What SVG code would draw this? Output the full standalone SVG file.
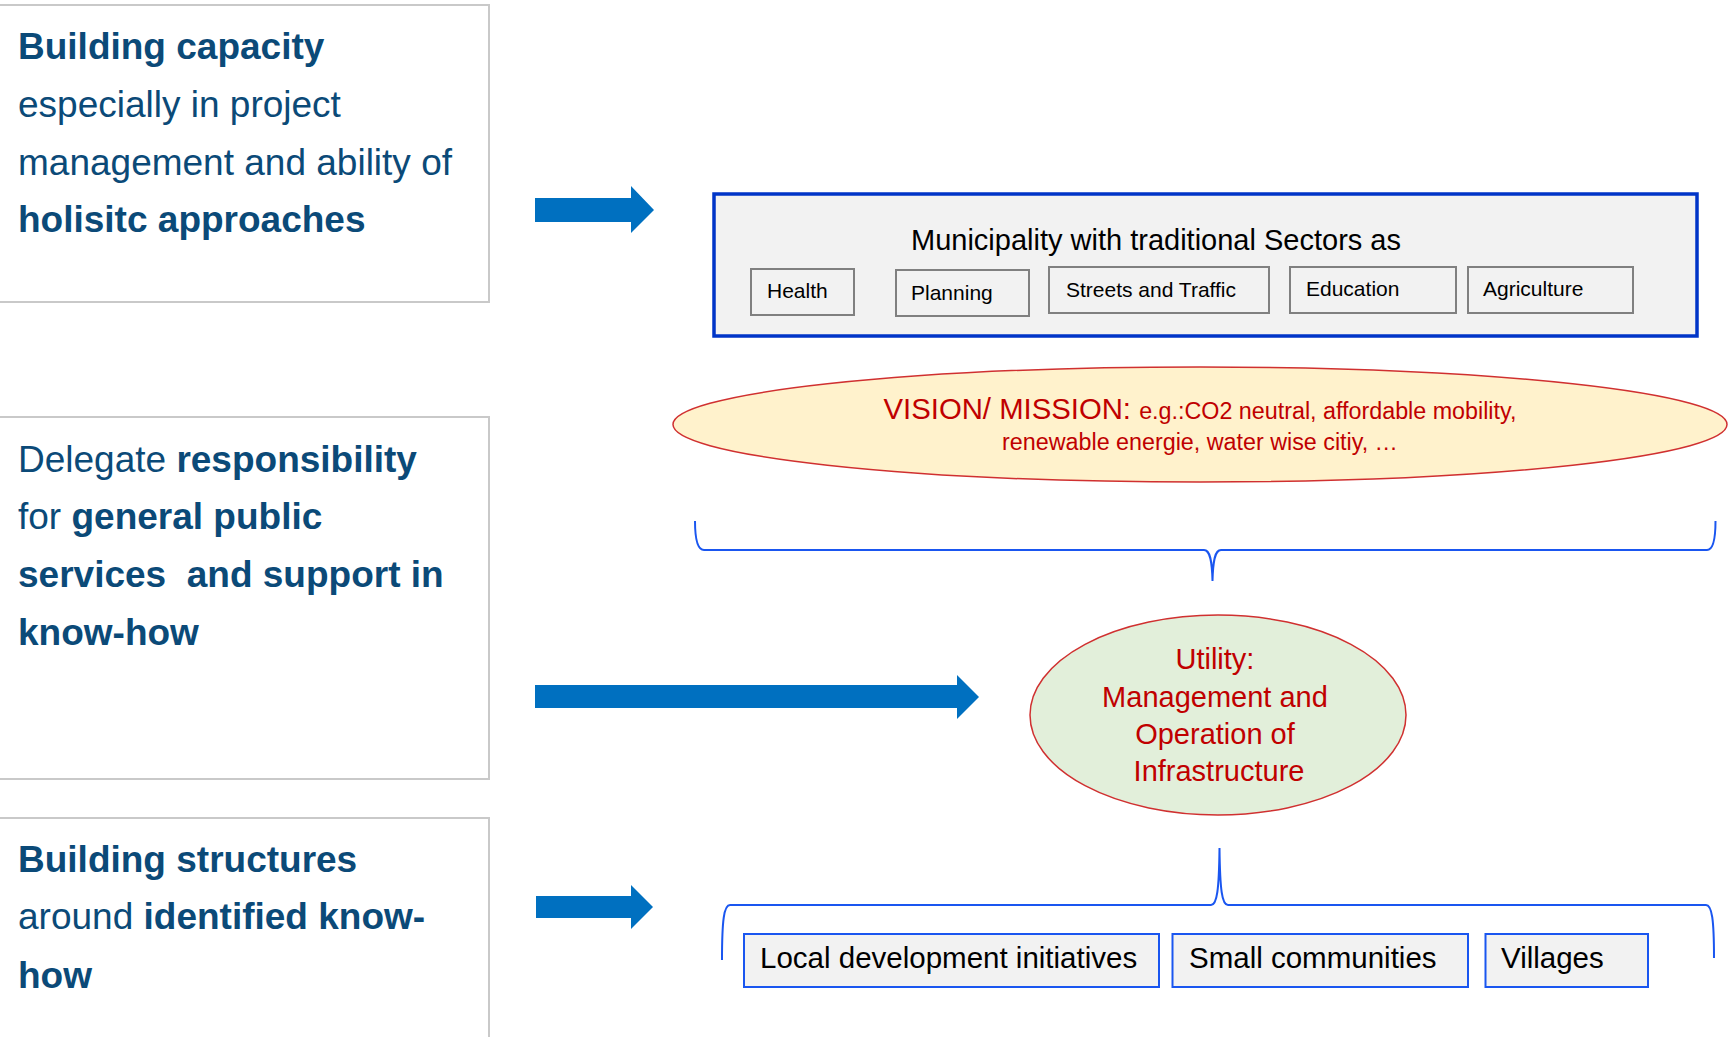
<svg xmlns="http://www.w3.org/2000/svg" width="1729" height="1037" viewBox="0 0 1729 1037">
<style>
text{font-family:"Liberation Sans",Arial,sans-serif}
.lbox{fill:#fff;stroke:#c9c9c9;stroke-width:2}
.lt{font-size:37px;fill:#0b4a78}
.b{font-weight:bold}
.arrow{fill:#0070c0}
.sec{fill:#f2f2f2;stroke:#808080;stroke-width:2}
.st{font-size:21px;fill:#000}
.red{fill:#c00000}
.brace{fill:none;stroke:#1a56f0;stroke-width:2}
.bot{fill:#f2f2f2;stroke:#1a56f0;stroke-width:2}
.bt{font-size:29.5px;fill:#000}
</style>
<g id="box-capacity">
<rect class="lbox" x="-2" y="5" width="491" height="297"/>
<text class="lt" x="18" y="59"><tspan class="b">Building capacity</tspan></text>
<text class="lt" x="18" y="117">especially in project</text>
<text class="lt" x="18" y="175">management and ability of</text>
<text class="lt" x="18" y="232"><tspan class="b">holisitc approaches</tspan></text>
</g>
<g id="box-delegate">
<rect class="lbox" x="-2" y="417" width="491" height="362"/>
<text class="lt" x="18" y="472">Delegate <tspan class="b">responsibility</tspan></text>
<text class="lt" x="18" y="529">for <tspan class="b">general public</tspan></text>
<text class="lt b" x="18" y="587" xml:space="preserve">services  and support in</text>
<text class="lt b" x="18" y="645">know-how</text>
</g>
<g id="box-structures">
<rect class="lbox" x="-2" y="818" width="491" height="230"/>
<text class="lt b" x="18" y="872">Building structures</text>
<text class="lt" x="18" y="929">around <tspan class="b">identified know-</tspan></text>
<text class="lt b" x="18" y="988">how</text>
</g>
<g id="arrows">
<polygon class="arrow" points="535,198 631,198 631,186 654,210 631,233 631,222 535,222"/>
<polygon class="arrow" points="535,685 957,685 957,675 979,697 957,719 957,708 535,708"/>
<polygon class="arrow" points="536,896 631,896 631,885 653,907 631,929 631,918 536,918"/>
</g>
<g id="municipality">
<rect x="714" y="194" width="983" height="142" fill="#f2f2f2" stroke="#0035c8" stroke-width="3.5"/>
<text x="1156" y="250" font-size="29" text-anchor="middle" fill="#000">Municipality with traditional Sectors as</text>
<g id="sector-health"><rect class="sec" x="751" y="269" width="103" height="46"/><text class="st" x="767" y="298">Health</text></g>
<g id="sector-planning"><rect class="sec" x="896" y="270" width="133" height="46"/><text class="st" x="911" y="300">Planning</text></g>
<g id="sector-streets"><rect class="sec" x="1049" y="267" width="220" height="46"/><text class="st" x="1066" y="297">Streets and Traffic</text></g>
<g id="sector-education"><rect class="sec" x="1290" y="267" width="166" height="46"/><text class="st" x="1306" y="296">Education</text></g>
<g id="sector-agriculture"><rect class="sec" x="1468" y="267" width="165" height="46"/><text class="st" x="1483" y="296">Agriculture</text></g>
</g>
<g id="vision">
<ellipse cx="1200" cy="424.5" rx="527" ry="57.5" fill="#fff2cc" stroke="#d03030" stroke-width="1.5"/>
<text class="red" x="1200" y="419" text-anchor="middle"><tspan font-size="29.3">VISION/ MISSION: </tspan><tspan font-size="23.3">e.g.:CO2 neutral, affordable mobility,</tspan></text>
<text class="red" x="1200" y="450" font-size="23.3" text-anchor="middle">renewable energie, water wise citiy, …</text>
</g>
<g id="utility">
<ellipse cx="1218" cy="715" rx="188" ry="100" fill="#e2efda" stroke="#d03030" stroke-width="1.5"/>
<text class="red" font-size="29" text-anchor="middle">
<tspan x="1219" y="669">Utility:</tspan>
<tspan x="1219" y="707">Management and</tspan>
<tspan x="1219" y="744">Operation of</tspan>
<tspan x="1219" y="781">Infrastructure</tspan>
</text>
</g>
<g id="connectors">
<path class="brace" d="M695,521 C695,540 698,550 704,550 L1204,550 C1210,550 1212,560 1212.5,581 C1213,560 1215,550 1221,550 L1707,550 C1713,550 1715.5,540 1715.5,521"/>
<path class="brace" d="M722,960 C722,920 724,905 730,905 L1211,905 C1217,905 1219,890 1219.5,848 C1220,890 1222,905 1228,905 L1706,905 C1712,905 1714,920 1714,958"/>
</g>
<g id="local-initiatives"><rect class="bot" x="744" y="934" width="415" height="53"/><text class="bt" x="760" y="968">Local development initiatives</text></g>
<g id="small-communities"><rect class="bot" x="1172.5" y="934" width="295.5" height="53"/><text class="bt" x="1189" y="968">Small communities</text></g>
<g id="villages"><rect class="bot" x="1485.5" y="934" width="162.5" height="53"/><text class="bt" x="1501" y="968">Villages</text></g>
</svg>
